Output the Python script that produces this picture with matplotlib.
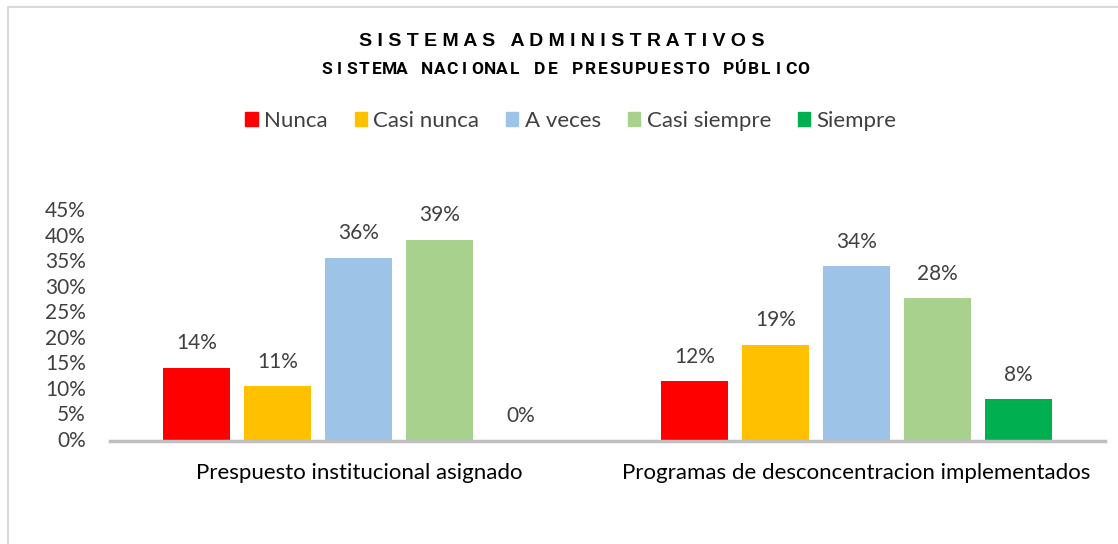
import matplotlib
matplotlib.use("Agg")
import matplotlib.pyplot as plt
from matplotlib.lines import Line2D
from matplotlib.patches import Patch
from matplotlib.transforms import blended_transform_factory
import numpy as np

categories = ["Prespuesto institucional asignado",
              "Programas de desconcentracion implementados"]
series = ["Nunca", "Casi nunca", "A veces", "Casi siempre", "Siempre"]
values = {
    "Nunca":        [0.14, 0.12],
    "Casi nunca":   [0.11, 0.19],
    "A veces":      [0.36, 0.34],
    "Casi siempre": [0.39, 0.28],
    "Siempre":      [0.00, 0.08],
}
# bar heights as drawn (labels show rounded values)
heights = {
    "Nunca":        [0.143, 0.117],
    "Casi nunca":   [0.107, 0.188],
    "A veces":      [0.359, 0.342],
    "Casi siempre": [0.394, 0.279],
    "Siempre":      [0.000, 0.082],
}
colors = ["#FF0000", "#FFC000", "#9DC3E6", "#A9D18E", "#00B050"]
yticks = [0, 0.05, 0.10, 0.15, 0.20, 0.25, 0.30, 0.35, 0.40, 0.45]
title = "SISTEMAS ADMINISTRATIVOS"
subtitle = "SISTEMA NACIONAL DE PRESUPUESTO PÚBLICO"

W, H = 1118, 544
fig = plt.figure(figsize=(W / 100, H / 100), dpi=100)
ax = fig.add_axes([110 / W, 1 - 441 / H, 995 / W, 230 / H])

font = "Lato"
txt = "#404040"
x = np.arange(len(categories))
step, width = 0.1628, 0.1347
for i, s in enumerate(series):
    xs = x + (i - 2) * step
    ax.bar(xs, heights[s], width, color=colors[i], zorder=2)
    for xx, h, v in zip(xs, heights[s], values[s]):
        ax.text(xx, h + 0.048, f"{round(v * 100):.0f}%", ha="center", va="center",
                fontsize=15, color=txt, family=font)

ax.set_xlim(-0.5, 1.5)
ax.set_ylim(0, 0.45)
ax.set_yticks(yticks)
ax.set_yticklabels([])
# y labels right-aligned at a fixed pixel column
ylab_tr = blended_transform_factory(fig.transFigure, ax.transData)
for t in yticks:
    ax.text(86 / W, t, f"{round(t * 100)}%", transform=ylab_tr, ha="right",
            va="center", family=font, fontsize=15, color=txt)
ax.set_xticks(x)
ax.set_xticklabels(categories, family=font, fontsize=16, color="#000000")
ax.tick_params(axis="x", length=0, pad=16)
ax.tick_params(axis="y", length=0)
for sp in ["top", "right", "left"]:
    ax.spines[sp].set_visible(False)
ax.spines["bottom"].set_color("#BFBFBF")
ax.spines["bottom"].set_linewidth(2.5)
ax.spines["bottom"].set_zorder(3)

# chart frame (left and top edges visible)
fig.add_artist(Line2D([8 / W, 8 / W, 1.0], [0, 1 - 7 / H, 1 - 7 / H],
                      transform=fig.transFigure, color="#D9D9D9", lw=1.5))

fig.text(562 / W, 1 - 41 / H, "   ".join(" ".join(w) for w in title.split()),
         ha="center", va="center", fontsize=14, fontweight="bold",
         family="Liberation Sans", color="#000000")

# letter-spaced subtitle, one glyph per fixed-width cell
pitch = 12.55
x0 = 565 - pitch * (len(subtitle) - 1) / 2
for k, ch in enumerate(subtitle):
    if ch != " ":
        fig.text((x0 + k * pitch) / W, 1 - 73.5 / H, ch, ha="center", va="baseline",
                 fontsize=12.5, fontweight="bold", family="Roboto", color="#000000")

handles = [Patch(color=c) for c in colors]
fig.legend(handles, series, loc="center", bbox_to_anchor=(571 / W, 1 - 121 / H),
           ncol=5, frameon=False, prop={"family": font, "size": 16},
           labelcolor=txt, handlelength=0.55, handleheight=0.55,
           handletextpad=0.3, columnspacing=1.2)

fig.savefig("out.png", dpi=100)
